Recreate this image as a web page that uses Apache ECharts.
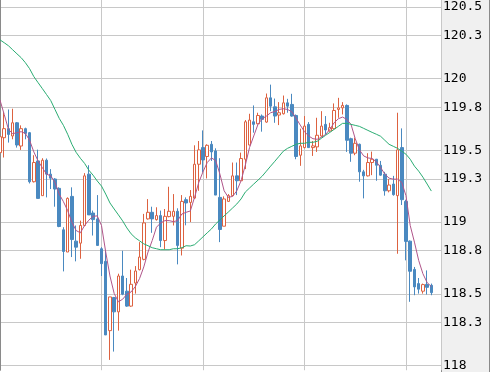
<!DOCTYPE html>
<html><head><meta charset="utf-8">
<script src="https://cdn.jsdelivr.net/npm/echarts@6/dist/echarts.min.js"></script>
<style>html,body{margin:0;padding:0;background:#fff}#c{width:497px;height:372px}</style>
</head><body><div id="c"></div><script>
const openP = [119.484,119.588,119.651,119.600,119.692,119.530,119.651,119.623,119.281,119.426,
119.184,119.431,119.334,119.300,119.235,118.946,118.791,119.179,118.867,118.853,
118.976,119.334,119.063,119.022,118.814,118.726,118.243,118.474,118.374,118.624,
118.518,118.414,118.575,118.668,118.740,119.022,119.068,119.017,119.045,118.871,
119.038,119.040,119.075,118.818,119.156,119.137,119.167,119.403,119.519,119.457,
119.542,119.496,119.172,118.971,119.144,119.184,119.322,119.288,119.438,119.537,
119.699,119.685,119.739,119.697,119.866,119.803,119.746,119.755,119.831,119.820,
119.743,119.466,119.519,119.681,119.519,119.524,119.600,119.681,119.635,119.651,
119.785,119.796,119.813,119.581,119.480,119.542,119.350,119.322,119.415,119.438,
119.396,119.334,119.218,119.265,119.184,119.519,119.144,118.867,118.670,118.571,
118.518,118.565,118.559];
const closeP = [119.595,119.651,119.611,119.692,119.537,119.651,119.618,119.281,119.415,119.165,
119.431,119.334,119.306,119.230,118.969,118.795,119.165,118.878,118.825,118.976,
119.322,119.050,119.017,118.837,118.710,118.213,118.478,118.374,118.624,118.497,
118.414,118.566,118.659,118.756,118.994,119.068,119.022,119.045,118.871,119.040,
119.075,119.075,118.837,119.144,119.133,119.179,119.403,119.503,119.433,119.535,
119.489,119.188,118.948,119.161,119.184,119.322,119.288,119.443,119.699,119.711,
119.681,119.743,119.716,119.866,119.808,119.739,119.762,119.831,119.808,119.739,
119.457,119.531,119.669,119.519,119.531,119.605,119.669,119.642,119.658,119.778,
119.796,119.813,119.570,119.480,119.549,119.350,119.322,119.415,119.438,119.396,
119.327,119.218,119.258,119.191,119.503,119.156,118.865,118.657,118.548,118.532,
118.564,118.545,118.508];
const lowP = [119.396,119.450,119.554,119.577,119.519,119.503,119.577,119.269,119.276,119.165,
119.184,119.172,119.230,119.107,118.964,118.656,118.791,118.756,118.726,118.744,
118.971,119.050,118.906,118.837,118.624,118.213,118.039,118.097,118.243,118.490,
118.409,118.409,118.501,118.663,118.733,119.017,118.925,119.010,118.825,118.809,
119.033,118.976,118.705,118.767,118.977,119.000,119.161,119.218,119.346,119.304,
119.426,119.188,118.860,118.971,119.140,119.180,119.188,119.288,119.369,119.535,
119.623,119.681,119.630,119.692,119.773,119.692,119.676,119.750,119.762,119.734,
119.438,119.392,119.514,119.519,119.461,119.489,119.595,119.611,119.630,119.646,
119.727,119.750,119.489,119.420,119.466,119.281,119.165,119.318,119.327,119.288,
119.323,119.184,119.207,119.184,118.779,119.119,118.733,118.444,118.490,118.501,
118.501,118.495,118.490];
const highP = [119.651,119.766,119.785,119.790,119.697,119.674,119.658,119.628,119.466,119.505,
119.445,119.443,119.369,119.306,119.242,118.964,119.172,119.242,118.976,119.010,
119.341,119.396,119.080,119.188,118.825,118.800,118.478,118.478,118.640,118.800,
118.610,118.668,118.693,118.860,119.057,119.160,119.107,119.103,119.080,119.091,
119.246,119.195,119.096,119.188,119.172,119.223,119.535,119.565,119.639,119.542,
119.565,119.514,119.445,119.179,119.195,119.415,119.415,119.484,119.711,119.755,
119.813,119.762,119.750,119.896,119.958,119.861,119.836,119.882,119.859,119.894,
119.750,119.651,119.739,119.697,119.565,119.727,119.773,119.739,119.692,119.827,
119.866,119.836,119.820,119.588,119.588,119.547,119.364,119.480,119.491,119.440,
119.426,119.350,119.300,119.322,119.762,119.653,119.156,118.872,118.687,118.610,
118.571,118.663,118.571];
const maShort = [119.850,119.750,119.646,119.616,119.623,119.630,119.618,119.570,119.489,119.426,
119.380,119.334,119.322,119.276,119.195,119.142,119.080,118.999,118.941,118.925,
118.976,119.013,119.040,119.043,118.976,118.791,118.624,118.502,118.444,118.462,
118.497,118.513,118.550,118.606,118.687,118.791,118.872,118.964,118.994,119.010,
119.010,119.003,119.010,119.056,119.068,119.077,119.172,119.276,119.350,119.415,
119.447,119.429,119.334,119.218,119.172,119.179,119.218,119.288,119.396,119.519,
119.600,119.681,119.720,119.739,119.762,119.771,119.785,119.790,119.785,119.769,
119.725,119.676,119.630,119.600,119.581,119.577,119.591,119.611,119.646,119.692,
119.720,119.732,119.716,119.681,119.581,119.503,119.461,119.447,119.443,119.420,
119.380,119.334,119.306,119.299,119.299,119.276,119.184,118.976,118.860,118.733,
118.640,118.578,118.550];
const maLong = [120.270,120.250,120.229,120.201,120.173,120.146,120.111,120.069,120.014,119.972,
119.931,119.889,119.847,119.785,119.723,119.674,119.612,119.542,119.486,119.445,
119.409,119.362,119.327,119.286,119.251,119.195,119.133,119.091,119.050,119.008,
118.959,118.918,118.890,118.869,118.848,118.835,118.821,118.814,118.807,118.807,
118.807,118.814,118.814,118.821,118.835,118.833,118.842,118.869,118.897,118.925,
118.952,118.987,119.015,119.043,119.070,119.098,119.126,119.161,119.209,119.237,
119.265,119.292,119.320,119.355,119.390,119.424,119.459,119.494,119.514,119.528,
119.542,119.549,119.549,119.556,119.556,119.563,119.584,119.605,119.625,119.646,
119.667,119.688,119.688,119.681,119.674,119.667,119.653,119.639,119.625,119.612,
119.598,119.570,119.542,119.528,119.514,119.494,119.473,119.438,119.390,119.355,
119.313,119.265,119.216];
const yTicks = [118, 118.3, 118.5, 118.8, 119, 119.3, 119.5, 119.8, 120, 120.3, 120.5];

const chart = echarts.init(document.getElementById('c'), null, {renderer: 'canvas'});
const candles = openP.map((o, i) => [i, o, closeP[i], lowP[i], highP[i]]);
const option = {
  animation: false,
  grid: {left: 0, right: 56, top: 0, bottom: 0},
  graphic: [{
    type: 'rect', silent: true, z: -10,
    shape: {x: 441.5, y: -2, width: 48, height: 376},
    style: {fill: '#f0f0f0', stroke: '#8a8a8a', lineWidth: 1}
  }],
  xAxis: {
    type: 'value', min: 0, max: 104.28, interval: 24,
    axisLine: {show: false}, axisTick: {show: false}, axisLabel: {show: false},
    splitLine: {show: true, lineStyle: {color: '#c8c8c8', width: 1}}
  },
  yAxis: {
    type: 'value', position: 'right', min: 117.967, max: 120.548, scale: true,
    axisLine: {show: true, lineStyle: {color: '#8a8a8a'}},
    axisTick: {show: false, customValues: yTicks},
    axisLabel: {customValues: yTicks, margin: 2, color: '#000', fontFamily: 'DejaVu Sans Mono', fontSize: 13},
    splitLine: {show: true, lineStyle: {color: '#c8c8c8', width: 1}}
  },
  series: [
    {
      type: 'candlestick', data: candles, encode: {x: 0, y: [1, 2, 3, 4]},
      barWidth: 3,
      itemStyle: {color: '#ffffff', color0: '#4a89c0', borderColor: '#dd6240', borderColor0: '#4a89c0', borderWidth: 1}
    },
    {
      type: 'line', data: maShort.map((v, i) => [i, v]), symbol: 'none', showSymbol: false,
      lineStyle: {width: 1, color: '#b0558a'}, z: 3
    },
    {
      type: 'line', data: maLong.map((v, i) => [i, v]), symbol: 'none', showSymbol: false,
      lineStyle: {width: 1, color: '#2aac72'}, z: 3
    }
  ]
};
chart.setOption(option);
</script></body></html>
